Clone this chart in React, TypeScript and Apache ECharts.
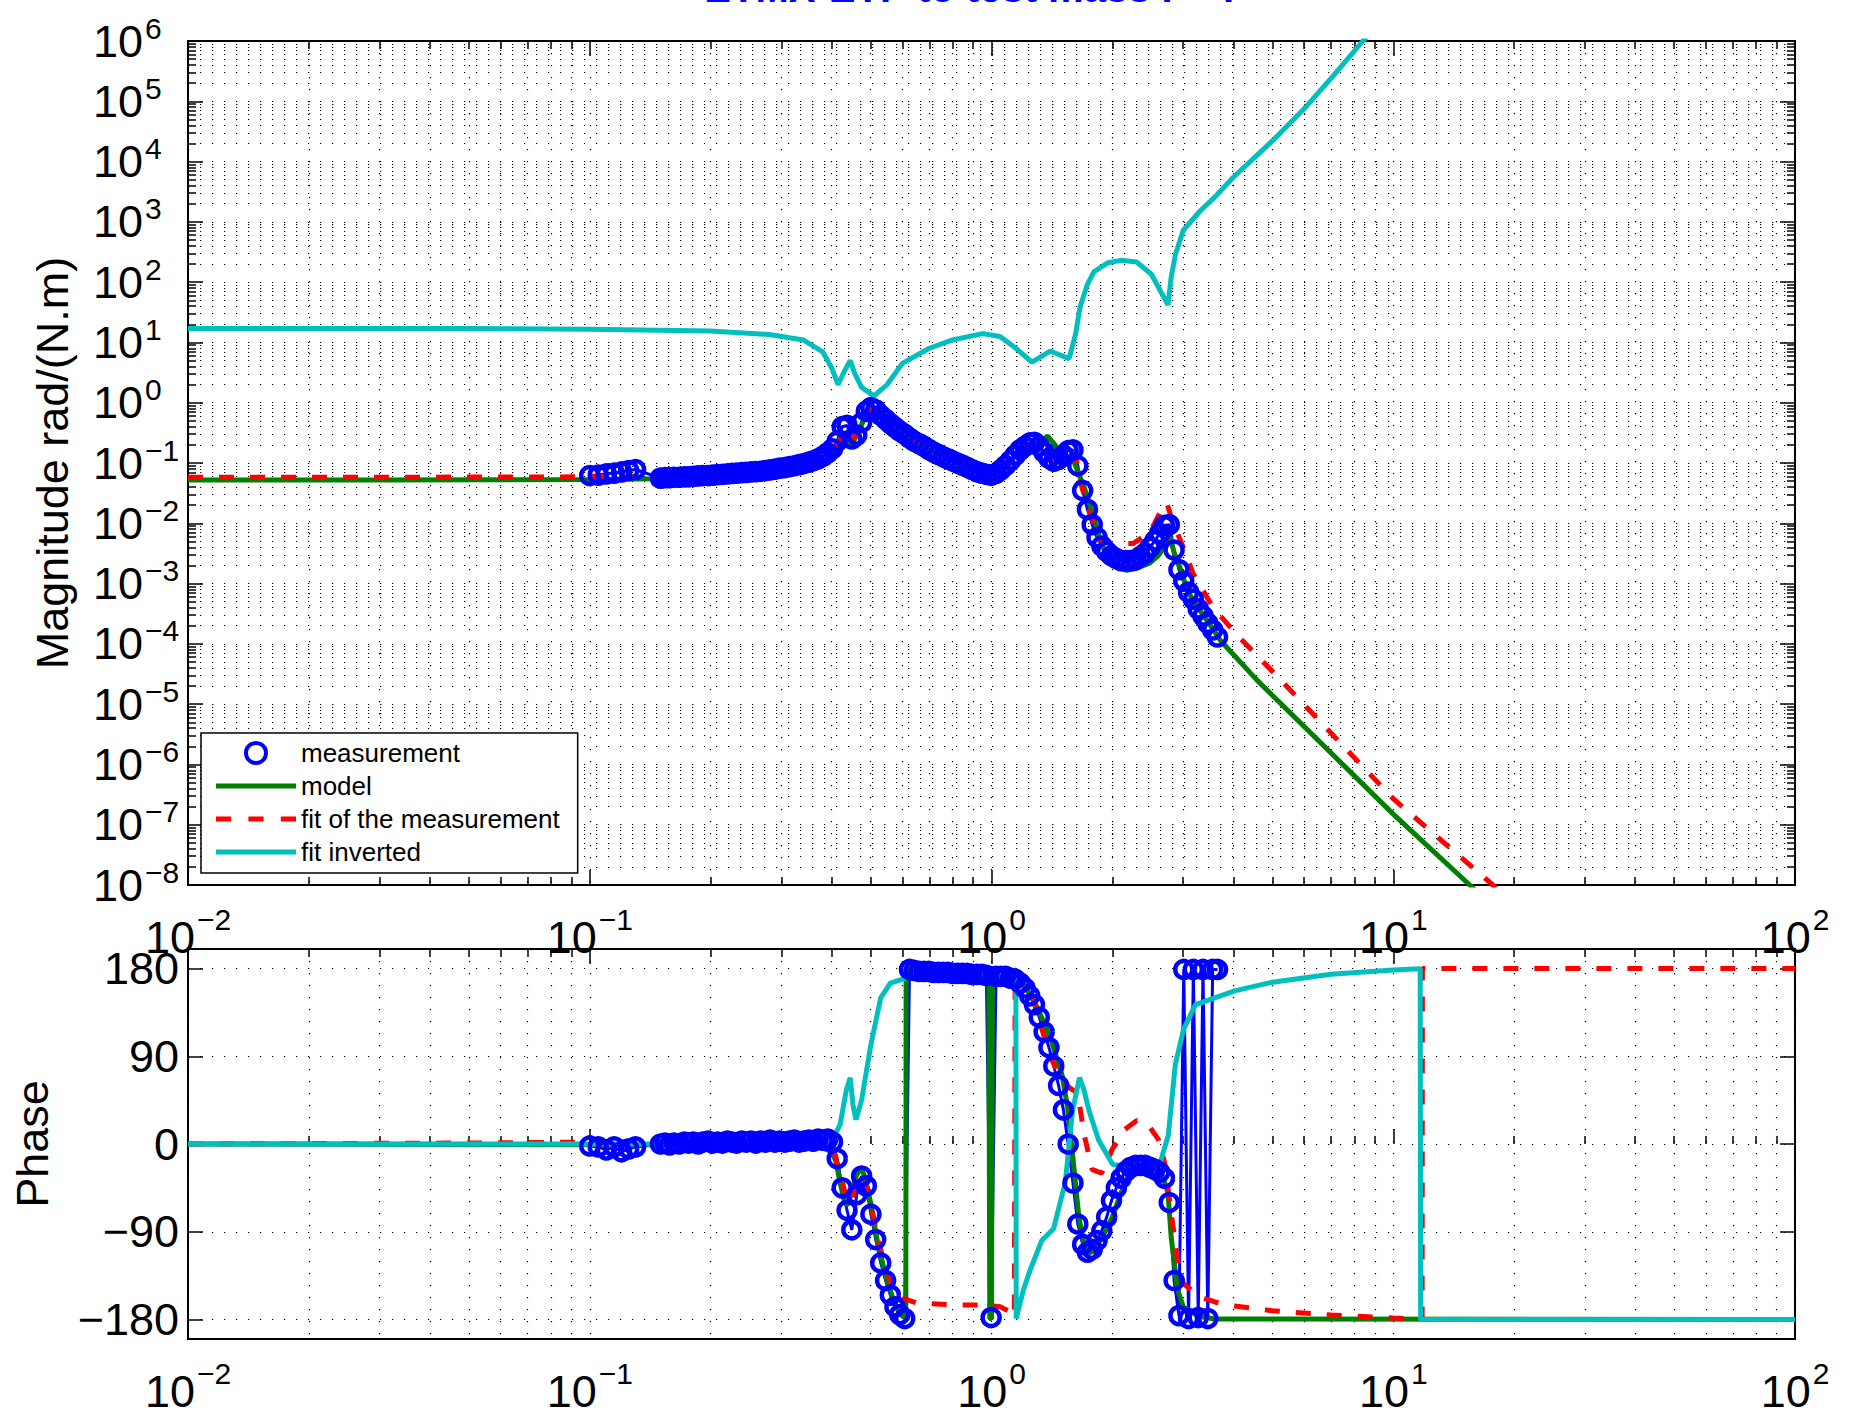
import React, { useEffect, useRef } from "react";
import * as echarts from "echarts";

const FONT = "'Liberation Sans', Arial, Helvetica, sans-serif";

const TITLE = "ETMX-ETP to test mass P - P";
const MAG_NAME = "Magnitude rad/(N.m)";
const PHASE_NAME = "Phase";
const LEGEND_NAMES = ["measurement", "model", "fit of the measurement", "fit inverted"];

const X_DECADES = [0.01, 0.1, 1, 10, 100];
const MAG_DECADES = [1e-8, 1e-7, 1e-6, 1e-5, 1e-4, 1e-3, 1e-2, 1e-1, 1, 10, 100, 1e3, 1e4, 1e5, 1e6];
const PHASE_TICKS = [-180, -90, 0, 90, 180];
const MINOR_STEPS = [2, 3, 4, 5, 6, 7, 8, 9];

// measurement (frequency Hz, magnitude rad/(N.m), phase deg)
const measFreq = [
  0.1, 0.105, 0.11, 0.115, 0.12, 0.125, 0.13,
  0.15, 0.154, 0.158, 0.162, 0.167, 0.172, 0.176, 0.181, 0.186, 0.191, 0.197, 0.202, 0.208, 0.214,
  0.22, 0.226, 0.232, 0.239, 0.245, 0.252, 0.259, 0.266, 0.274, 0.281, 0.289, 0.297, 0.306, 0.314,
  0.323, 0.332, 0.341, 0.351, 0.36, 0.37, 0.381, 0.391, 0.402, 0.413, 0.425, 0.437, 0.449, 0.462,
  0.475, 0.488, 0.501, 0.515, 0.53, 0.545, 0.56, 0.575, 0.591, 0.608, 0.625, 0.642, 0.66, 0.679,
  0.698, 0.717, 0.737, 0.758, 0.779, 0.801, 0.823, 0.846, 0.87, 0.894, 0.919, 0.945, 0.971, 0.998,
  1.026, 1.055, 1.084, 1.115, 1.146, 1.178, 1.211, 1.245, 1.279, 1.315, 1.352, 1.39, 1.429, 1.469,
  1.51, 1.552, 1.595, 1.64, 1.686, 1.733, 1.781, 1.831, 1.882, 1.935, 1.989, 2.045, 2.102, 2.161,
  2.221, 2.284, 2.348, 2.413, 2.481, 2.55, 2.622, 2.695, 2.77, 2.848, 2.928, 3.01, 3.094, 3.18,
  3.27, 3.361, 3.455, 3.552, 3.652,
];
const measMag = [
  0.062, 0.063, 0.066, 0.068, 0.071, 0.075, 0.078,
  0.056, 0.057, 0.057, 0.058, 0.058, 0.059, 0.059, 0.06, 0.061, 0.062, 0.062, 0.063, 0.064, 0.065,
  0.066, 0.067, 0.068, 0.069, 0.07, 0.071, 0.072, 0.073, 0.075, 0.077, 0.079, 0.082, 0.084, 0.087,
  0.09, 0.094, 0.098, 0.103, 0.109, 0.117, 0.13, 0.147, 0.172, 0.23, 0.4, 0.42, 0.25, 0.29,
  0.47, 0.72, 0.83, 0.76, 0.62, 0.53, 0.45, 0.39, 0.34, 0.3, 0.26, 0.23, 0.21, 0.19,
  0.168, 0.152, 0.139, 0.127, 0.117, 0.108, 0.1, 0.092, 0.085, 0.078, 0.072, 0.068, 0.065, 0.063,
  0.067, 0.077, 0.091, 0.11, 0.135, 0.165, 0.19, 0.215, 0.22, 0.19, 0.15, 0.12, 0.107, 0.115,
  0.135, 0.16, 0.165, 0.09, 0.035, 0.017, 0.0095, 0.0058, 0.0042, 0.0034, 0.0029, 0.0026, 0.0024, 0.0024,
  0.0024, 0.0025, 0.0028, 0.0032, 0.004, 0.0051, 0.0068, 0.0092, 0.0095, 0.0036, 0.0017, 0.0011, 0.00072, 0.00055,
  0.00038, 0.00029, 0.00022, 0.00017, 0.00013,
];
const measPhase = [
  -2, -3, -6, -3, -8, -5, -3,
  0, 1, -1, 1, 0, 2, 1, 2, 0, 2, 3, 1, 2, 1,
  3, 2, 1, 3, 2, 3, 1, 3, 2, 4, 2, 3, 2, 3,
  4, 2, 3, 4, 3, 5, 4, 5, 2, -15, -45, -68, -88, -52,
  -33, -43, -72, -98, -122, -140, -155, -167, -175, -179, 179, 178, 177, 177,
  177, 176, 176, 176, 176, 175, 175, 175, 175, 174, 174, 174, 173, -178,
  172, 172, 172, 170, 169, 165, 160, 152, 143, 130, 115, 99, 80, 60,
  35, 0, -40, -82, -103, -111, -108, -99, -89, -75, -58, -45, -35, -28,
  -24, -22, -22, -22, -24, -26, -29, -35, -60, -140, -176, 179, -179, 179,
  -178, 179, -179, 179, 179,
];

// model, fit and inverted fit: [frequency Hz, value]
const modelMag = [
  [0.01, 0.052], [0.03, 0.052], [0.1, 0.053], [0.15, 0.055], [0.2, 0.058], [0.25, 0.063], [0.3, 0.07],
  [0.35, 0.084], [0.38, 0.1], [0.4, 0.125], [0.415, 0.17], [0.425, 0.24], [0.432, 0.31], [0.44, 0.24],
  [0.447, 0.2], [0.455, 0.24], [0.47, 0.37], [0.485, 0.58], [0.497, 0.78], [0.503, 0.8], [0.515, 0.7],
  [0.53, 0.58], [0.56, 0.43], [0.6, 0.31], [0.65, 0.22], [0.7, 0.165], [0.8, 0.11], [0.9, 0.078],
  [0.97, 0.06], [1.02, 0.055], [1.07, 0.06], [1.13, 0.08], [1.2, 0.12], [1.27, 0.17], [1.33, 0.23],
  [1.38, 0.28], [1.43, 0.21], [1.5, 0.135], [1.56, 0.128], [1.6, 0.11], [1.65, 0.065], [1.7, 0.04],
  [1.75, 0.022], [1.8, 0.012], [1.86, 0.0055], [1.93, 0.003], [2.0, 0.0021], [2.08, 0.0018],
  [2.17, 0.00166], [2.3, 0.0018], [2.48, 0.0022], [2.6, 0.0029], [2.7, 0.0042], [2.78, 0.0059],
  [2.85, 0.0032], [2.94, 0.0019], [3.05, 0.0009], [3.17, 0.00052], [3.44, 0.000245], [3.71, 0.000115],
  [4.58, 2.5e-5], [10, 1.5e-7], [15.5, 1e-8], [30, 2e-10], [100, 1e-13],
];
const fitMag = [
  [0.01, 0.058], [0.03, 0.058], [0.1, 0.059], [0.15, 0.061], [0.2, 0.064], [0.25, 0.069], [0.3, 0.077],
  [0.35, 0.093], [0.38, 0.115], [0.4, 0.15], [0.415, 0.21], [0.425, 0.3], [0.432, 0.36], [0.44, 0.29],
  [0.448, 0.24], [0.457, 0.28], [0.47, 0.4], [0.485, 0.6], [0.497, 0.78], [0.505, 0.8], [0.515, 0.72],
  [0.53, 0.6], [0.56, 0.45], [0.6, 0.33], [0.65, 0.24], [0.7, 0.18], [0.8, 0.12], [0.9, 0.088],
  [0.97, 0.074], [1.02, 0.072], [1.08, 0.085], [1.15, 0.12], [1.22, 0.18], [1.27, 0.22], [1.32, 0.19],
  [1.38, 0.13], [1.456, 0.11], [1.52, 0.13], [1.58, 0.155], [1.62, 0.14], [1.66, 0.051], [1.71, 0.026],
  [1.76, 0.0145], [1.862, 0.0052], [2.0, 0.0046], [2.25, 0.0046], [2.48, 0.0071], [2.62, 0.0145],
  [2.73, 0.022], [2.82, 0.011], [3.0, 0.004], [3.17, 0.0015], [3.56, 0.0004], [4.15, 0.000126],
  [5.13, 2.95e-5], [10, 2.7e-7], [17.7, 1e-8], [30, 2.5e-10], [100, 1e-13],
];
const invMag = [
  [0.01, 17], [0.05, 17], [0.1, 16.6], [0.2, 15.5], [0.28, 13.5], [0.34, 11], [0.38, 7], [0.4, 3.8],
  [0.415, 2.0], [0.43, 3.3], [0.445, 5.0], [0.457, 3.0], [0.475, 1.8], [0.51, 1.3], [0.55, 2.0],
  [0.6, 4.5], [0.7, 8], [0.8, 11], [0.95, 14], [1.05, 12.5], [1.15, 8], [1.26, 4.7], [1.4, 7.2],
  [1.56, 5.4], [1.62, 14], [1.66, 38], [1.73, 90], [1.8, 150], [1.95, 210], [2.1, 230], [2.3, 215],
  [2.5, 135], [2.65, 66], [2.75, 42], [2.8, 120], [2.87, 290], [3.0, 720], [3.3, 1500], [3.6, 2600],
  [4.0, 5500], [5.0, 22000], [6.0, 75000], [7.0, 240000], [8.4, 1e6], [10, 3.5e6], [100, 1e13],
];
const modelPhase = [
  [0.01, 0], [0.1, -0.5], [0.3, -1.5], [0.38, -4], [0.4, -8], [0.41, -18], [0.42, -40], [0.43, -58],
  [0.437, -63], [0.45, -48], [0.46, -33], [0.473, -24], [0.485, -35], [0.5, -60], [0.52, -100],
  [0.545, -135], [0.57, -160], [0.595, -175], [0.612, -179], [0.613, 179], [0.65, 177], [0.8, 176],
  [0.985, 175], [0.99, -179], [1.0, -179], [1.005, 175], [1.1, 174], [1.15, 172], [1.2, 165],
  [1.3, 140], [1.4, 110], [1.5, 70], [1.55, 35], [1.6, -20], [1.65, -75], [1.7, -103], [1.75, -112],
  [1.8, -109], [1.9, -93], [2.0, -75], [2.1, -50], [2.2, -33], [2.35, -25], [2.5, -24], [2.65, -30],
  [2.75, -50], [2.8, -95], [2.9, -148], [3.0, -167], [3.3, -177], [3.6, -179.5], [100, -180],
];
const fitPhase = [
  [0.01, 0], [0.05, 1], [0.1, 2], [0.2, 3], [0.35, 3], [0.39, 1], [0.405, -8], [0.42, -30],
  [0.435, -55], [0.445, -62], [0.455, -48], [0.47, -32], [0.485, -38], [0.5, -60], [0.52, -95],
  [0.545, -128], [0.57, -148], [0.6, -158], [0.65, -163], [0.8, -165], [0.95, -165], [1.05, -167],
  [1.1, -171], [1.14, -177], [1.145, 179], [1.2, 170], [1.246, 160], [1.334, 118], [1.408, 88],
  [1.474, 70], [1.56, 58], [1.64, 52], [1.7, 10], [1.78, -26], [1.88, -30], [2.0, -5], [2.15, 15],
  [2.3, 24], [2.45, 20], [2.6, 5], [2.7, -20], [2.8, -70], [2.9, -118], [3.0, -143], [3.3, -157],
  [3.6, -162], [4.0, -166], [5.0, -171], [7.0, -175.5], [10, -178.5], [11.8, -179.5], [11.82, 180],
  [100, 180],
];
const invPhase = [
  [0.01, 0], [0.3, 0], [0.38, 1], [0.4, 3], [0.42, 20], [0.435, 55], [0.445, 68], [0.452, 40],
  [0.46, 25], [0.475, 45], [0.5, 100], [0.53, 150], [0.56, 165], [0.62, 171], [0.8, 172], [1.0, 173],
  [1.1, 175], [1.15, 179], [1.152, -179], [1.2, -150], [1.246, -130], [1.334, -99], [1.427, -87],
  [1.527, -39], [1.591, 34], [1.656, 68], [1.7, 55], [1.749, 34], [1.847, 4], [2.003, -21],
  [2.294, -24], [2.627, -20], [2.754, 9], [2.869, 82], [3.009, 118], [3.22, 143], [4.03, 157],
  [5.0, 166], [7.0, 174], [10, 178.5], [11.67, 179.8], [11.7, -180], [100, -180],
];

const COLORS = { meas: "#0000ff", model: "#008000", fit: "#ff0000", inv: "#00bfbf" };

const ICON_SOLID = "path://M0,0H80V5H0Z";
const ICON_DASHED = "path://M0,0H15V5H0Z M32,0H47V5H32Z M64,0H79V5H64Z";

const minorOf = (decades: number[]) =>
  decades.slice(0, -1).flatMap((d) => MINOR_STEPS.map((k) => parseFloat((k * d).toPrecision(3))));

const sup = (n: number) => (n < 0 ? "\u2212" + Math.abs(n) : String(n));
const powLabel = (v: number) => `{b|10}{s|${sup(Math.round(Math.log10(v)))}}`;

const tickStyle = { color: "#000", width: 1.5 };
const dotted = { color: "#000", width: 1.2, type: [1.2, 10.8] };

const xRich = {
  b: { fontSize: 45, fontFamily: FONT, color: "#000", lineHeight: 66 },
  s: { fontSize: 30, fontFamily: FONT, color: "#000", lineHeight: 20, verticalAlign: "top", padding: [0, 0, 0, 2] },
};
const yRich = {
  b: { fontSize: 45, fontFamily: FONT, color: "#000", lineHeight: 56 },
  s: { fontSize: 30, fontFamily: FONT, color: "#000", lineHeight: 20, verticalAlign: "top", padding: [0, 0, 0, 2] },
};

function buildOption() {
  const X_MINOR = minorOf(X_DECADES);
  const MAG_MINOR = minorOf(MAG_DECADES);

  const logX = (g: number, position: string, ticks: number[], len: number, labels: boolean, split: boolean) => ({
    type: "log",
    logBase: 10,
    gridIndex: g,
    position,
    min: 0.01,
    max: 100,
    axisLine: { show: false },
    axisTick: { show: true, inside: true, length: len, customValues: ticks, lineStyle: tickStyle },
    axisLabel: labels
      ? { show: true, customValues: X_DECADES, margin: 19, formatter: powLabel, rich: xRich }
      : { show: false },
    splitLine: { show: split, lineStyle: dotted },
    minorTick: { show: false },
    minorSplitLine: { show: false },
  });

  const logY = (position: string, ticks: number[], len: number, labels: boolean, split: boolean) => ({
    type: "log",
    logBase: 10,
    gridIndex: 0,
    position,
    min: 1e-8,
    max: 1e6,
    axisLine: { show: false },
    axisTick: { show: true, inside: true, length: len, customValues: ticks, lineStyle: tickStyle },
    axisLabel: labels
      ? { show: true, customValues: MAG_DECADES, margin: 95, align: "left", formatter: powLabel, rich: yRich }
      : { show: false },
    splitLine: { show: split, lineStyle: dotted },
    minorTick: { show: false },
    minorSplitLine: { show: false },
  });

  const phaseY = (position: string, labels: boolean, split: boolean) => ({
    type: "value",
    gridIndex: 1,
    position,
    min: -200,
    max: 200,
    axisLine: { show: false },
    axisTick: { show: true, inside: true, length: 15, customValues: PHASE_TICKS, lineStyle: tickStyle },
    axisLabel: labels
      ? {
          show: true,
          customValues: PHASE_TICKS,
          margin: 9,
          fontSize: 45,
          fontFamily: FONT,
          color: "#000",
          formatter: (v: number) => sup(v),
        }
      : { show: false },
    splitLine: { show: split, lineStyle: dotted },
  });

  const line = (name: string, data: any, color: string, xi: number, yi: number, dashed = false) => ({
    name,
    type: "line",
    xAxisIndex: xi,
    yAxisIndex: yi,
    data,
    symbol: "none",
    clip: true,
    silent: true,
    emphasis: { disabled: true },
    lineStyle: { color, width: 5, type: dashed ? [15, 16] : "solid", cap: "butt" },
    itemStyle: { color },
  });

  const meas = (data: any, xi: number, yi: number) => ({
    name: "measurement",
    type: "line",
    xAxisIndex: xi,
    yAxisIndex: yi,
    data,
    symbol: "circle",
    symbolSize: 17,
    showSymbol: true,
    clip: true,
    silent: true,
    emphasis: { disabled: true },
    lineStyle: { color: COLORS.meas, width: 3 },
    itemStyle: { color: "rgba(0,0,0,0)", borderColor: COLORS.meas, borderWidth: 4.5 },
  });

  const measMagData = measFreq.map((f, i) => [f, measMag[i]]);
  const measPhaseData = measFreq.map((f, i) => [f, measPhase[i]]);

  return {
    animation: false,
    backgroundColor: "#ffffff",
    textStyle: { fontFamily: FONT },
    grid: [
      { left: 188, top: 41, width: 1607, height: 844, show: true, borderColor: "#000", borderWidth: 2, backgroundColor: "transparent", outerBoundsMode: "none" },
      { left: 188, top: 949, width: 1607, height: 390, show: true, borderColor: "#000", borderWidth: 2, backgroundColor: "transparent", outerBoundsMode: "none" },
    ],
    xAxis: [
      logX(0, "bottom", X_DECADES, 15, true, true),
      logX(0, "bottom", X_MINOR, 8, false, true),
      logX(0, "top", X_DECADES, 15, false, false),
      logX(0, "top", X_MINOR, 8, false, false),
      logX(1, "bottom", X_DECADES, 15, true, true),
      logX(1, "bottom", X_MINOR, 8, false, true),
      logX(1, "top", X_DECADES, 15, false, false),
      logX(1, "top", X_MINOR, 8, false, false),
    ],
    yAxis: [
      logY("left", MAG_DECADES, 15, true, true),
      logY("left", MAG_MINOR, 8, false, true),
      logY("right", MAG_DECADES, 15, false, false),
      logY("right", MAG_MINOR, 8, false, false),
      phaseY("left", true, true),
      phaseY("right", false, false),
    ],
    legend: {
      left: 201,
      top: 733,
      orient: "vertical",
      selectedMode: false,
      backgroundColor: "#ffffff",
      borderColor: "#000",
      borderWidth: 1.5,
      borderRadius: 0,
      padding: [5, 18, 6, 15],
      itemGap: 3,
      itemWidth: 80,
      itemHeight: 20,
      symbolKeepAspect: true,
      textStyle: { fontSize: 26, fontFamily: FONT, color: "#000", lineHeight: 30 },
      data: [
        { name: LEGEND_NAMES[0], icon: "circle", itemStyle: { color: "rgba(0,0,0,0)", borderColor: COLORS.meas, borderWidth: 4 } },
        { name: LEGEND_NAMES[1], icon: ICON_SOLID, itemStyle: { color: COLORS.model, borderWidth: 0 } },
        { name: LEGEND_NAMES[2], icon: ICON_DASHED, itemStyle: { color: COLORS.fit, borderWidth: 0 } },
        { name: LEGEND_NAMES[3], icon: ICON_SOLID, itemStyle: { color: COLORS.inv, borderWidth: 0 } },
      ],
      z: 10,
    },
    graphic: [
      {
        type: "text",
        x: 977,
        y: -12,
        silent: true,
        style: { text: TITLE, fill: COLORS.meas, fontSize: 40, fontWeight: "bold", fontFamily: FONT, align: "center", verticalAlign: "middle" },
      },
      {
        type: "text",
        x: 52,
        y: 463,
        rotation: Math.PI / 2,
        silent: true,
        style: { text: MAG_NAME, fill: "#000", fontSize: 45, fontFamily: FONT, align: "center", verticalAlign: "middle" },
      },
      {
        type: "text",
        x: 32,
        y: 1144,
        rotation: Math.PI / 2,
        silent: true,
        style: { text: PHASE_NAME, fill: "#000", fontSize: 45, fontFamily: FONT, align: "center", verticalAlign: "middle" },
      },
    ],
    series: [
      meas(measMagData, 0, 0),
      line(LEGEND_NAMES[1], modelMag, COLORS.model, 0, 0),
      line(LEGEND_NAMES[2], fitMag, COLORS.fit, 0, 0, true),
      line(LEGEND_NAMES[3], invMag, COLORS.inv, 0, 0),
      meas(measPhaseData, 4, 4),
      line(LEGEND_NAMES[1], modelPhase, COLORS.model, 4, 4),
      line(LEGEND_NAMES[2], fitPhase, COLORS.fit, 4, 4, true),
      line(LEGEND_NAMES[3], invPhase, COLORS.inv, 4, 4),
    ],
  };
}

export default function App() {
  const ref = useRef<HTMLDivElement>(null);
  useEffect(() => {
    if (!ref.current) return;
    const chart = echarts.init(ref.current, undefined, { renderer: "svg" });
    chart.setOption(buildOption() as any);
    return () => chart.dispose();
  }, []);
  return (
    <div
      ref={ref}
      style={{ position: "fixed", left: 0, top: 0, width: 1854, height: 1416, background: "#ffffff" }}
    />
  );
}
